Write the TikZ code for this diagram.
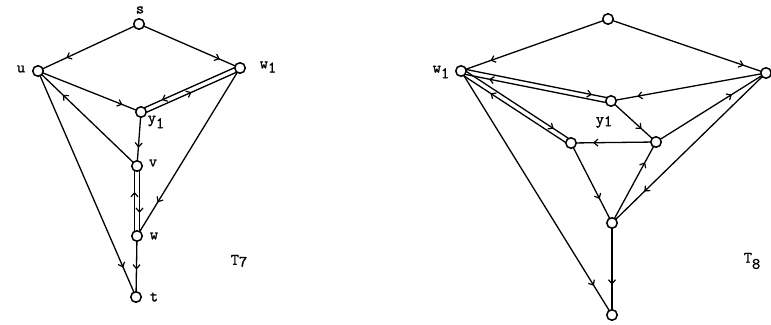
\documentclass[tikz,border=0pt]{standalone}
\usepackage{fontspec}
\newfontfamily\labfont[FakeBold=1.2]{Latin Modern Mono}
\usetikzlibrary{arrows.meta,decorations.markings,calc}
\pgfdeclarelayer{bg}\pgfsetlayers{bg,main}
\begin{document}
\begin{tikzpicture}[x=1pt,y=-1pt,
  vert/.style={circle,draw,fill=white,line width=1.5pt,inner sep=0pt,minimum size=10.5pt},
  edge/.style={line width=1.3pt},
  arr/.style={postaction={decorate,decoration={markings,mark=at position #1 with {\arrow{Straight Barb[length=4pt,width=7pt,line width=1.2pt]}}}}},
  lab/.style={font=\fontsize{16}{16}\selectfont\labfont,inner sep=0pt}
]
\useasboundingbox (0,0) rectangle (771,324);
% ---------- T7 ----------
\node[vert] (s)  at (139,24) {};
\node[vert] (u)  at (38,71) {};
\node[vert] (wa) at (240,68) {};
\node[vert] (ya) at (141,112) {};
\node[vert] (v)  at (137,166) {};
\node[vert] (w)  at (137,236) {};
\node[vert] (t)  at (136,297) {};
\node[lab] (ls)  at (140,10) {s};
\node[lab] (lu)  at (21,69) {u};
\node[lab] (lwa) at (268,67) {w\raisebox{-.6ex}{1}};
\node[lab] (lya) at (156,122) {y\raisebox{-.8ex}{1}};
\node[lab] (lv)  at (153,163) {v};
\node[lab] (lw)  at (154,236) {w};
\node[lab] (lt)  at (154,297) {t};
\node[lab] (lT7) at (239,261) {T\raisebox{-.3ex}{7}};
\begin{pgfonlayer}{bg}
\draw[edge,arr=0.72] (s.center) -- (u.center);
\draw[edge,arr=0.8] (s.center) -- (wa.center);
\draw[edge,arr=0.82] (u.center) -- (ya.center);
\draw[edge,arr=0.78] ($(wa.center)!2.5pt!-90:(ya.center)$) -- ($(ya.center)!2.5pt!90:(wa.center)$);
\draw[edge,arr=0.5] ($(ya.center)!2.5pt!-90:(wa.center)$) -- ($(wa.center)!2.5pt!90:(ya.center)$);
\draw[edge,arr=0.66] (ya.center) -- (v.center);
\draw[edge,arr=0.75] (v.center) -- (u.center);
\draw[edge,arr=0.87] (u.center) -- (t.center);
\draw[edge,arr=0.8] (wa.center) -- (w.center);
\draw[edge,arr=0.63] ($(w.center)!2.5pt!90:(v.center)$) -- ($(v.center)!2.5pt!-90:(w.center)$);
\draw[edge,arr=0.67] ($(v.center)!2.5pt!90:(w.center)$) -- ($(w.center)!2.5pt!-90:(v.center)$);
\draw[edge,arr=0.55] (w.center) -- (t.center);
\end{pgfonlayer}
% ---------- T8 ----------
\node[vert] (p)  at (608,19) {};
\node[vert] (wb) at (461,71) {};
\node[vert] (r)  at (766,73) {};
\node[vert] (yb) at (611,101) {};
\node[vert] (a)  at (571,143) {};
\node[vert] (b)  at (656,142) {};
\node[vert] (c)  at (612,223) {};
\node[vert] (d)  at (612,315) {};
\node[lab] (lwb) at (441,72) {w\raisebox{-.8ex}{1}};
\node[lab] (lyb) at (604,122) {y\raisebox{-.3ex}{1}};
\node[lab] (lT8) at (752,261) {T\raisebox{-.9ex}{8}};
\begin{pgfonlayer}{bg}
\draw[edge,arr=0.8] (p.center) -- (wb.center);
\draw[edge,arr=0.86] (p.center) -- (r.center);
\draw[edge,arr=0.87] ($(wb.center)!2.5pt!90:(yb.center)$) -- ($(yb.center)!2.5pt!-90:(wb.center)$);
\draw[edge,arr=0.81] ($(yb.center)!2.5pt!90:(wb.center)$) -- ($(wb.center)!2.5pt!-90:(yb.center)$);
\draw[edge,arr=0.83] (r.center) -- (yb.center);
\draw[edge,arr=0.68] (yb.center) -- (b.center);
\draw[edge,arr=0.74] (b.center) -- (a.center);
\draw[edge,arr=0.83] ($(wb.center)!2.5pt!90:(a.center)$) -- ($(a.center)!2.5pt!-90:(wb.center)$);
\draw[edge,arr=0.72] ($(a.center)!2.5pt!90:(wb.center)$) -- ($(wb.center)!2.5pt!-90:(a.center)$);
\draw[edge,arr=0.69] (b.center) -- (r.center);
\draw[edge,arr=0.75] (c.center) -- (b.center);
\draw[edge,arr=0.79] (r.center) -- (c.center);
\draw[edge,arr=0.7] (a.center) -- (c.center);
\draw[edge,arr=0.88] (wb.center) -- (d.center);
\draw[edge,arr=0.67] (c.center) -- (d.center);
\end{pgfonlayer}
\end{tikzpicture}
\end{document}
